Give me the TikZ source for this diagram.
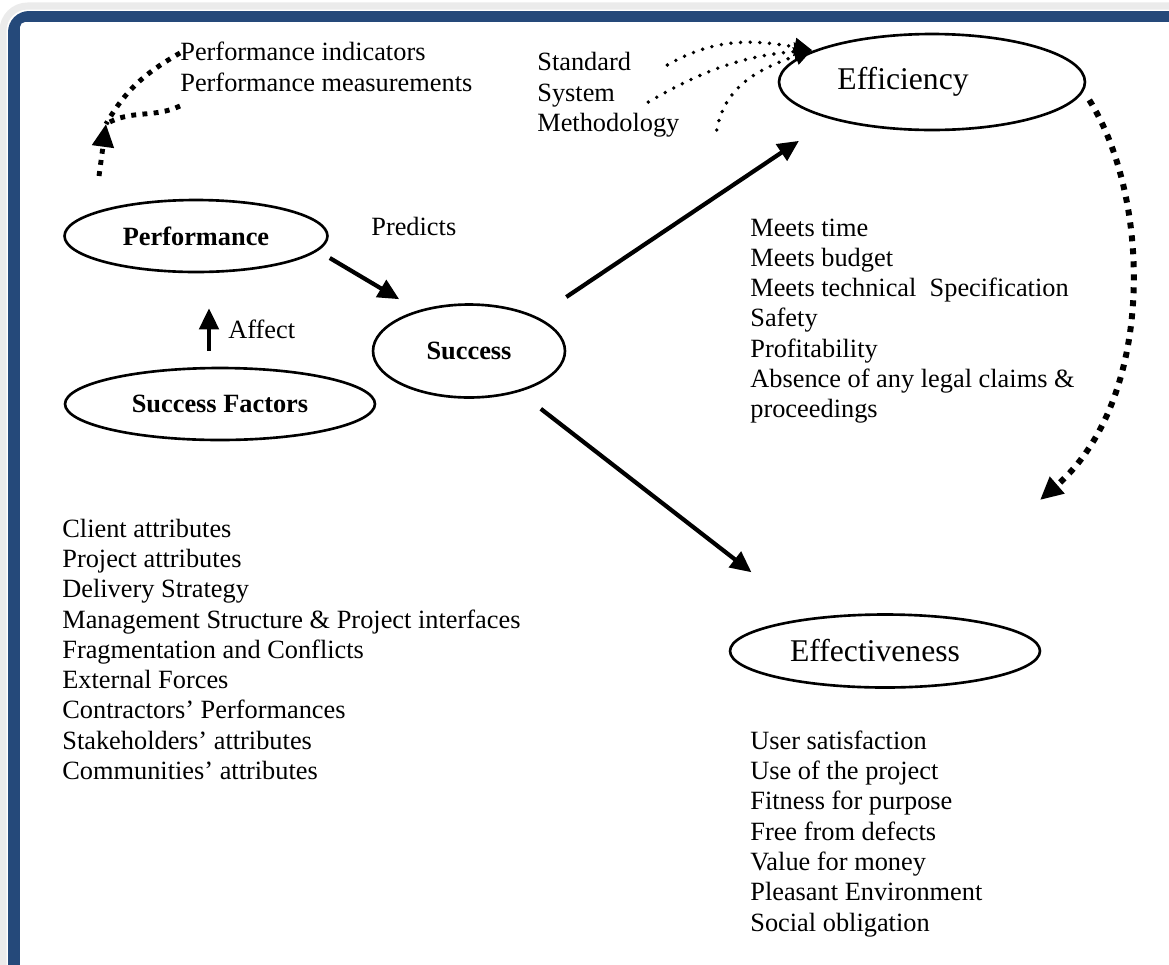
\documentclass[tikz,border=0pt]{standalone}
\usepackage{fontspec}
\setmainfont{Liberation Serif}
\usepackage{tikz}
\usetikzlibrary{shapes.geometric, arrows.meta}
\definecolor{framebl}{RGB}{37,73,122}
\tikzstyle{bubble} = [ellipse, draw=black, line width=1.5pt, inner sep=0pt, font=\fontsize{15}{18}\selectfont\bfseries]
\tikzstyle{bigbubble} = [bubble, font=\fontsize{18}{20}\selectfont]
\tikzstyle{txt} = [inner sep=0pt, anchor=west, text height=11pt, text depth=3pt, font=\fontsize{15}{18}\selectfont]
\tikzstyle{arrow} = [line width=2.4pt, -{Triangle[length=12pt, width=11pt]}]
\tikzstyle{bigdots} = [line width=3.4pt, dash pattern=on 3.4pt off 4pt, -{Triangle[length=13pt, width=12pt]}]
\tikzstyle{meddots} = [line width=2.8pt, dash pattern=on 2.8pt off 3.6pt]
\tikzstyle{smalldots} = [line width=2.2pt, line cap=round, dash pattern=on 0pt off 5.5pt, -{Triangle[length=10pt, width=10pt]}]

\begin{document}
\begin{tikzpicture}[x=0.02cm, y=-0.02cm]
\useasboundingbox (0,0) rectangle (1169,964);
\clip (0,0) rectangle (1169,964);
% frame
\draw[black!8, line width=4pt, rounded corners=14] (3,6) rectangle (1220,1010);
\fill[framebl, rounded corners=12] (8,11) rectangle (1220,1010);
\fill[white, rounded corners=3] (20,22) rectangle (1220,1010);

% bubbles
\node (effic) [bigbubble, minimum width=6.12cm, minimum height=1.92cm] at (932,82) {Efficiency\hspace*{1.16cm}\mbox{}};
\node (perf) [bubble, minimum width=5.26cm, minimum height=1.44cm] at (196,236) {Performance};
\node (succ) [bubble, minimum width=3.84cm, minimum height=1.86cm] at (469,351) {Success};
\node (sf) [bubble, minimum width=6.2cm, minimum height=1.44cm] at (220,404) {Success Factors};
\node (effect) [bigbubble, minimum width=6.2cm, minimum height=1.46cm] at (885,651) {Effectiveness\hspace*{0.4cm}\mbox{}};

% labels
\node (pind) [txt] at (180,53) {Performance indicators};
\node (pmeas) [txt] at (180,84) {Performance measurements};
\node (std) [txt] at (537,63) {Standard};
\node (sys) [txt] at (537,94) {System};
\node (meth) [txt] at (537,124) {Methodology};
\node (pred) [txt] at (371,228) {Predicts};
\node (aff) [txt] at (228,331) {Affect};

% lists
\foreach \t [count=\i] in {Meets time, Meets budget, Meets technical~ Specification, Safety, Profitability, Absence of any legal claims \&, proceedings}
  \node (effic\i) [txt] at (750,199+30.2*\i) {\t};
\foreach \t [count=\i] in {Client attributes, Project attributes, Delivery Strategy, Management Structure \& Project interfaces, Fragmentation and Conflicts, External Forces, Contractors' Performances, Stakeholders' attributes, Communities' attributes}
  \node (sf\i) [txt] at (62,500+30.25*\i) {\t};
\foreach \t [count=\i] in {User satisfaction, Use of the project, Fitness for purpose, Free from defects, Value for money, Pleasant Environment, Social obligation}
  \node (effect\i) [txt] at (750,712+30.3*\i) {\t};

% arrows
\draw [arrow] ([shift={(1,22)}]perf.east) -- ([shift={(-1,-18)}]succ.north west);
\draw [arrow] ([shift={(-11,-16)}]sf.north) -- ([shift={(13,35)}]perf.south);
\draw [arrow] ([shift={(0,-54)}]succ.east) -- ([shift={(-24,24)}]effic.south west);
\draw [arrow] ([shift={(3,24)}]succ.south east) -- ([shift={(-23,-52)}]effect.north west);

% dotted links
\coordinate (effin) at (1040,500);
\draw [bigdots] ([shift={(3,18)}]effic.east) .. controls (1152,200) and (1155,400) .. (effin);

\coordinate (effarr) at (812,50);
\draw [smalldots] ([shift={(36,2)}]std.east) to[out=30, in=170] (effarr);
\draw [smalldots] ([shift={(33,8)}]sys.east) to[out=30, in=185] (effarr);
\draw [smalldots] ([shift={(37,6)}]meth.east) to[out=80, in=200] (effarr);

\coordinate (phead) at (106,124);
\coordinate (ptail) at (99,176);
\draw [meddots] (pind.west) to[out=210, in=60] (phead);
\draw [meddots] ([shift={(0,22)}]pmeas.west) to[out=205, in=30] (phead);
\draw [meddots, -{Triangle[length=13pt, width=12pt]}] (ptail) -- (phead);
\end{tikzpicture}
\end{document}
